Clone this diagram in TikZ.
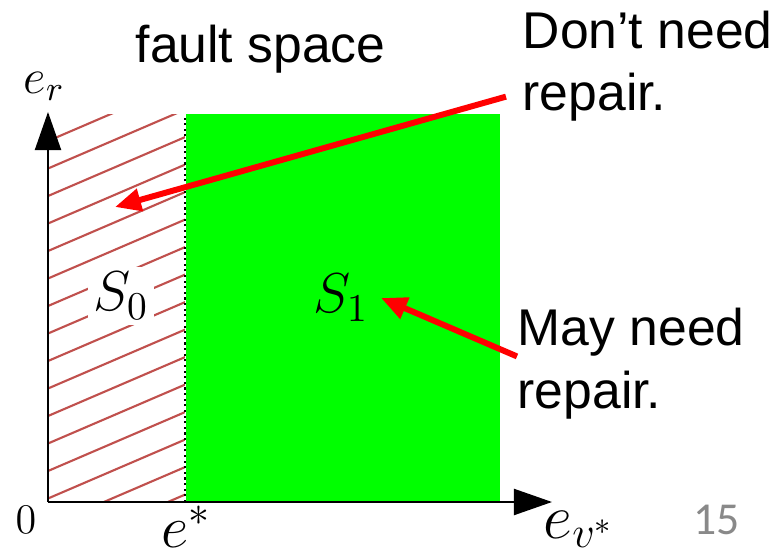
\documentclass[tikz,border=0pt]{standalone}
\usepackage{fix-cm}
\usepackage{fontspec}
\usetikzlibrary{arrows.meta}
\newfontfamily\arialfont{Liberation Sans}
\newfontfamily\slidefont{Carlito}
\definecolor{hatchred}{RGB}{192,80,77}
\definecolor{pagenum}{RGB}{137,137,137}

\begin{document}
\begin{tikzpicture}[
        axis/.style={line width=0.6pt, -{Triangle[length=0.38cm, width=0.26cm]}},
        hatchline/.style={hatchred, line width=0.6pt},
        note/.style={font=\arialfont\fontsize{14.7}{17}\selectfont, inner sep=0pt, anchor=base west},
        mathlbl/.style={inner sep=0pt, anchor=base west},
        pointer/.style={red, line width=1.7pt, -{Triangle[length=0.26cm, width=0.22cm]}}
    ]
        \useasboundingbox (0,0) rectangle (7.81,5.56);
        \coordinate (O) at (0.48,0.54);
        \coordinate (ytop) at (0.48,4.44);
        \coordinate (xend) at (5.52,0.54);
        \fill[green] (1.86,0.54) rectangle (5.00,4.42);
        \begin{scope}
            \clip (0.48,0.54) rectangle (1.85,4.42);
            \foreach \k in {-6,...,14}
                \draw[hatchline] (0.48,0.575+\k*0.275) -- ++(1.38,0.593);
        \end{scope}
        \draw[densely dotted, line width=0.6pt] (1.85,0.54) -- (1.85,4.42);
        \draw[axis] (O) -- (ytop);
        \draw[axis] (O) -- (xend);
        \node[mathlbl, font=\fontsize{14}{16}\selectfont] (er) at (0.23,4.63) {$e_r$};
        \node[mathlbl, font=\fontsize{12}{14}\selectfont] (zero) at (0.15,0.23) {$0$};
        \node[mathlbl, font=\fontsize{17}{19}\selectfont] (estar) at (1.61,0.09) {$e^*$};
        \node[mathlbl, font=\fontsize{18}{20}\selectfont] (ev) at (5.43,0.18) {$e_{v^*}$};
        \node[fill=white, inner sep=1.5pt, font=\fontsize{16}{18}\selectfont] (S0) at (1.21,2.60) {$S_0$};
        \node[font=\fontsize{16}{18}\selectfont] (S1) at (3.41,2.58) {$S_1$};
        \node[note] (fault) at (1.35,4.94) {fault space};
        \node[note] (dont) at (5.22,5.08) {Don’t need};
        \node[note] (rep1) at (5.22,4.46) {repair.};
        \node[note] (may) at (5.17,2.11) {May need};
        \node[note] (rep2) at (5.17,1.48) {repair.};
        \node[font=\slidefont\fontsize{13}{15}\selectfont, text=pagenum, inner sep=0pt, anchor=base west] (page) at (6.93,0.22) {15};
        \coordinate (hatchpt) at (1.15,3.49);
        \draw[pointer] ([xshift=-0.16cm]rep1.west) -- (hatchpt);
        \draw[pointer] (may.south west) -- (S1.east);
    \end{tikzpicture}
\end{document}
